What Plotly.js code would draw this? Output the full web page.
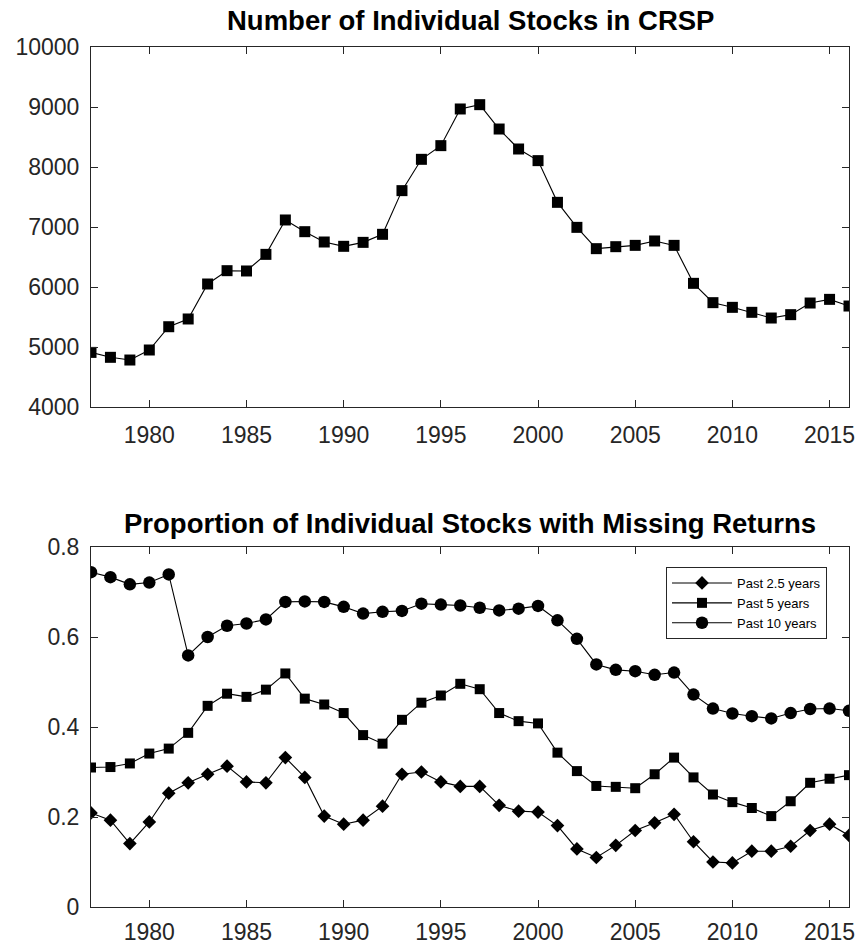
<!DOCTYPE html>
<html>
<head>
<meta charset="utf-8">
<script src="https://cdn.plot.ly/plotly-3.0.1.min.js"></script>
<style>html,body{margin:0;padding:0;background:#fff;}#chart{width:859px;height:945px;}</style>
</head>
<body>
<div id="chart"></div>
<script>
// ---- data ----
const years = [1977,1978,1979,1980,1981,1982,1983,1984,1985,1986,1987,1988,1989,1990,1991,1992,1993,1994,1995,1996,1997,1998,1999,2000,2001,2002,2003,2004,2005,2006,2007,2008,2009,2010,2011,2012,2013,2014,2015,2016];
const numStocks = [4910,4828,4783,4950,5338,5467,6050,6272,6267,6544,7117,6922,6750,6678,6744,6878,7606,8128,8356,8967,9039,8633,8300,8106,7411,6994,6639,6672,6694,6767,6694,6061,5739,5661,5578,5483,5539,5733,5794,5683];
const past2_5 = [0.209,0.193,0.141,0.189,0.253,0.276,0.295,0.313,0.278,0.276,0.332,0.288,0.202,0.184,0.193,0.224,0.295,0.300,0.278,0.268,0.268,0.226,0.213,0.211,0.181,0.129,0.110,0.137,0.170,0.187,0.206,0.145,0.100,0.098,0.124,0.124,0.135,0.170,0.184,0.159];
const past5 = [0.310,0.311,0.319,0.341,0.352,0.387,0.447,0.474,0.467,0.483,0.519,0.463,0.450,0.431,0.382,0.363,0.416,0.454,0.470,0.496,0.484,0.431,0.413,0.408,0.343,0.302,0.269,0.267,0.264,0.295,0.332,0.288,0.250,0.233,0.220,0.202,0.235,0.276,0.285,0.293];
const past10 = [0.744,0.733,0.717,0.721,0.739,0.559,0.600,0.625,0.630,0.639,0.678,0.679,0.678,0.667,0.652,0.656,0.658,0.674,0.672,0.670,0.665,0.659,0.663,0.669,0.637,0.596,0.539,0.527,0.524,0.516,0.521,0.472,0.441,0.430,0.424,0.419,0.431,0.440,0.441,0.436];
const xTicks = [1980,1985,1990,1995,2000,2005,2010,2015];
const seriesNames = ['Past 2.5 years','Past 5 years','Past 10 years'];
const titles = ['Number of Individual Stocks in CRSP','Proportion of Individual Stocks with Missing Returns'];

// ---- style ----
const W = 859, H = 945;
const axCol = '#262626';
const tickFont = {family:'"Liberation Sans", Arial, sans-serif', size:23, color:axCol};
const line = {color:'#000', width:1.1};

const traces = [
  {x:years, y:numStocks, xaxis:'x', yaxis:'y', mode:'lines+markers', showlegend:false,
   line:line, marker:{symbol:'square', size:11, color:'#000'}},
  {x:years, y:past2_5, xaxis:'x2', yaxis:'y2', mode:'lines+markers', name:seriesNames[0],
   line:line, marker:{symbol:'diamond', size:10.5, color:'#000'}},
  {x:years, y:past5, xaxis:'x2', yaxis:'y2', mode:'lines+markers', name:seriesNames[1],
   line:line, marker:{symbol:'square', size:10, color:'#000'}},
  {x:years, y:past10, xaxis:'x2', yaxis:'y2', mode:'lines+markers', name:seriesNames[2],
   line:line, marker:{symbol:'circle', size:12.5, color:'#000'}}
];

const xd = [91/W, 849/W];
const xAxis = (anchor, standoff) => ({
  domain: xd, anchor: anchor, range:[1977,2016], tickvals:xTicks,
  ticks:'inside', ticklen:7, tickcolor:axCol, tickwidth:1,
  showline:true, linecolor:axCol, linewidth:1, mirror:'ticks',
  showgrid:false, zeroline:false, tickfont:tickFont, ticklabelstandoff:standoff
});
const yAxis = (anchor, dom, rng, dt, fmt) => ({
  domain: dom, anchor: anchor, range:rng, dtick:dt, tick0:0, tickformat:fmt,
  ticks:'inside', ticklen:7, tickcolor:axCol, tickwidth:1,
  showline:true, linecolor:axCol, linewidth:1, mirror:'ticks',
  showgrid:false, zeroline:false, tickfont:tickFont, ticklabelstandoff:6
});

const titleFont = {family:'"Liberation Sans", Arial, sans-serif', size:27.5, color:'#000', weight:'bold'};

const layout = {
  width:W, height:H, margin:{l:0,r:0,t:0,b:0},
  paper_bgcolor:'#fff', plot_bgcolor:'#fff',
  xaxis: xAxis('y', 7),
  yaxis: yAxis('x', [(H-407)/H, (H-47)/H], [4000,10000], 1000, 'd'),
  xaxis2: xAxis('y2', 4),
  yaxis2: yAxis('x2', [(H-907)/H, (H-547)/H], [0,0.8], 0.2, ''),
  annotations:[
    {text:'<b>'+titles[0]+'</b>', xref:'paper', yref:'paper', x:470/W, y:(H-20)/H, xanchor:'center', yanchor:'middle', showarrow:false, font:titleFont},
    {text:'<b>'+titles[1]+'</b>', xref:'paper', yref:'paper', x:470/W, y:(H-523)/H, xanchor:'center', yanchor:'middle', showarrow:false, font:titleFont}
  ],
  legend:{x:827/W, y:(H-567)/H, xanchor:'right', yanchor:'top', bgcolor:'#fff',
    bordercolor:axCol, borderwidth:1, font:{family:'"Liberation Sans", Arial, sans-serif', size:13, color:'#000'},
    itemwidth:60, tracegroupgap:0},
  showlegend:true
};

Plotly.newPlot('chart', traces, layout, {displayModeBar:false, staticPlot:true});
</script>
</body>
</html>
